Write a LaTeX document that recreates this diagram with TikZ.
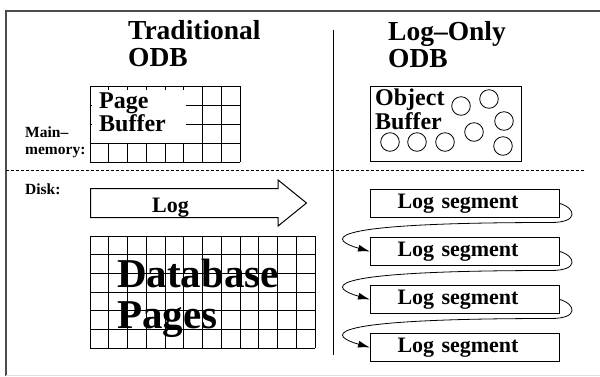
\documentclass[tikz,border=0pt]{standalone}
\usepackage{fontspec}
\setmainfont{Liberation Serif}
\usepackage{tikz}
\usetikzlibrary{calc,shapes.arrows,positioning}
\usetikzlibrary{arrows.meta}
\tikzset{
head_text/.style={font=\fontsize{27.5}{27}\selectfont\bfseries, align=left, inner sep=0, anchor=north west},
side_text/.style={font=\fontsize{15.5}{17}\selectfont\bfseries, align=left, inner sep=0},
buf_text/.style={font=\fontsize{24}{23.5}\selectfont\bfseries, align=left, inner sep=0},
grid_line/.style={line width=0.9pt},
obj/.style={circle, draw, line width=0.8pt, minimum size=18.6pt, inner sep=0},
log_seg/.style={rectangle, draw, line width=1pt, font=\fontsize{22}{22}\selectfont\bfseries, align=left, text width=135pt, inner xsep=27pt, minimum height=28pt},
log_arrow/.style={single arrow, draw, line width=1pt, inner xsep=0, inner ysep=14pt, minimum height=216pt, single arrow head extend=8.5pt, single arrow tip angle=78},
seg_link/.style={-{Latex[length=12pt,width=7pt]}, line width=0.8pt}
}

\begin{document}
\begin{tikzpicture}[x=1pt,y=-1pt]
    \useasboundingbox (0,0) rectangle (600,376);
    % frame
    \draw[line width=1.5pt, black!70] (6,376) -- (6,11) -- (601,11);
    \draw[line width=1pt, black!12] (6,375.5) -- (600,375.5);
    \draw[line width=1pt] (333,30) -- (333,355);
    \draw[line width=0.8pt, dash pattern=on 3pt off 2pt] (6,170) -- (585,170);

    % traditional ODB
    \node[head_text] (trad_head) at (128,20.3) {Traditional\\ODB};
    \node[side_text, anchor=north west] (main_mem) at (25,126.5) {Main–\\memory:};
    \node[side_text, anchor=base west] (disk) at (25,194) {Disk:};
    \foreach \c in {0,...,8}
        \draw[grid_line] (90+18.75*\c,86) -- (90+18.75*\c,162);
    \foreach \r in {0,...,4}
        \draw[grid_line] (90,86+19*\r) -- (240,86+19*\r);
    \node[buf_text, fill=white, anchor=north west, text width=80pt, inner xsep=7pt, minimum height=53pt] (page_buf) at (92,90) {Page\\Buffer\rule[-9pt]{0pt}{9pt}};

    \node[log_arrow, anchor=tail] (log_arrow) at (90,203) {};
    \node[font=\fontsize{22}{22}\selectfont\bfseries, inner sep=0, anchor=base west] (log_text) at (152,212) {Log};

    \foreach \c in {0,...,12}
        \draw[grid_line] (90+18.75*\c,236) -- (90+18.75*\c,348);
    \foreach \r in {0,...,6}
        \draw[grid_line] (90,236+18.67*\r) -- (315,236+18.67*\r);
    \node[font=\fontsize{41}{41}\selectfont\bfseries, align=left, inner sep=0, anchor=north west] (db_text) at (117,258.5) {Database\\Pages};

    % log-only ODB
    \node[head_text] (log_head) at (388,21.2) {Log–Only\\ODB};
    \draw[line width=1pt] (370,86) rectangle (521,161);
    \node[buf_text, font=\fontsize{24}{24}\selectfont\bfseries, anchor=north west] (obj_buf) at (375,88.5) {Object\\Buffer};
    \node[obj] (obj_1) at (461,106) {};
    \node[obj] (obj_2) at (489,99) {};
    \node[obj] (obj_3) at (504,121) {};
    \node[obj] (obj_4) at (474,132) {};
    \node[obj] (obj_5) at (390,142) {};
    \node[obj] (obj_6) at (417,142) {};
    \node[obj] (obj_7) at (445,142) {};
    \node[obj] (obj_8) at (503,146) {};

    \node[log_seg, anchor=north west] (seg_1) at (370,189) {Log segment};
    \node[log_seg] (seg_2) [below=19pt of seg_1] {Log segment};
    \node[log_seg] (seg_3) [below=19pt of seg_2] {Log segment};
    \node[log_seg] (seg_4) [below=19pt of seg_3] {Log segment};
    \foreach \i/\j in {1/2,2/3,3/4}
        \draw[seg_link] (seg_\i.east) .. controls +(16,5) and +(28,0) .. ($(seg_\i.east)+(-9,19)$)
            .. controls +(-250,0) and +(-35,-10) .. (seg_\j.west);
\end{tikzpicture}
\end{document}
